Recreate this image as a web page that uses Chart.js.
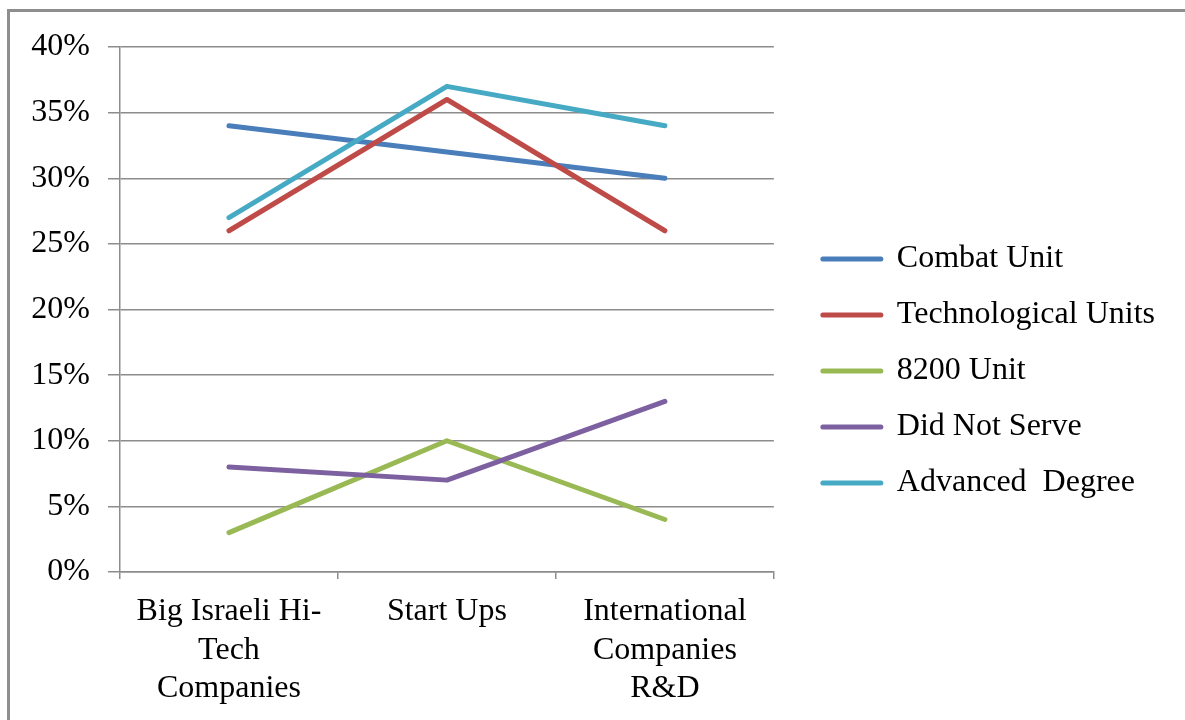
<!DOCTYPE html>
<html>
<head>
<meta charset="utf-8">
<script src="https://cdn.jsdelivr.net/npm/chart.js@4/dist/chart.umd.min.js"></script>
<style>
  html, body { margin: 0; padding: 0; background: #fff; overflow: hidden; }
  #frame {
    position: absolute; left: 7px; top: 9px; width: 1200px; height: 740px;
    border-left: 3px solid #8e8e8e; border-top: 3px solid #8e8e8e;
  }
  #wrap { position: absolute; left: 0; top: 0; width: 1185px; height: 720px; }
</style>
</head>
<body>
<div id="frame"></div>
<div id="wrap"><canvas id="chartCanvas"></canvas></div>
<script>
const categories = [
  ['Big Israeli Hi-', 'Tech', 'Companies'],
  'Start Ups',
  ['International', 'Companies', 'R&D']
];
const seriesNames = ['Combat Unit', 'Technological Units', '8200 Unit', 'Did Not Serve', 'Advanced  Degree'];
const combatUnit = [34, 32, 30];
const techUnits = [26, 36, 26];
const unit8200 = [3, 10, 4];
const didNotServe = [8, 7, 13];
const advancedDegree = [27, 37, 34];
const seriesColors = ['#4a7ebb', '#be4b48', '#98b954', '#7d60a0', '#46aac5'];

const serif = "'Liberation Serif', 'Times New Roman', serif";
const gridColor = '#8c8c8c';

const values = [combatUnit, techUnits, unit8200, didNotServe, advancedDegree];
const datasets = values.map((v, i) => ({
  label: seriesNames[i],
  data: v,
  borderColor: seriesColors[i],
  backgroundColor: seriesColors[i],
  borderWidth: 5,
  borderCapStyle: 'round',
  borderJoinStyle: 'round',
  pointRadius: 0,
  tension: 0,
  order: -i // later series on top, like the original
}));

// push the legend a little away from the plot, and up a bit
const legendShift = {
  id: 'legendShift',
  afterLayout(chart) {
    chart.legend.left += 25;
    chart.legend.right += 25;
    chart.legend.top -= 9;
    chart.legend.bottom -= 9;
  }
};

Chart.defaults.font.family = serif;
Chart.defaults.color = '#000';

new Chart(document.getElementById('chartCanvas').getContext('2d'), {
  type: 'line',
  data: { labels: categories, datasets: datasets },
  plugins: [legendShift],
  options: {
    responsive: true,
    maintainAspectRatio: false,
    animation: false,
    layout: { padding: { left: 0, right: 45, top: 47, bottom: 7 } },
    plugins: {
      tooltip: { enabled: false },
      legend: {
        position: 'right',
        align: 'center',
        maxWidth: 600,
        labels: {
          font: { size: 32, family: serif },
          color: '#000',
          padding: 24,
          boxWidth: 58,
          boxHeight: 0,
          sort: (a, b) => a.datasetIndex - b.datasetIndex,
          generateLabels(chart) {
            return chart.data.datasets.map((ds, i) => ({
              text: ds.label,
              fillStyle: ds.borderColor,
              strokeStyle: ds.borderColor,
              lineWidth: 5,
              lineCap: 'round',
              lineJoin: 'round',
              datasetIndex: i,
              hidden: false
            }));
          }
        }
      }
    },
    scales: {
      x: {
        offset: true,
        grid: {
          offset: true,
          drawOnChartArea: false,
          color: gridColor,
          lineWidth: 1.5,
          tickLength: 7
        },
        border: { color: gridColor, width: 1.5 },
        ticks: {
          font: { size: 32, family: serif, lineHeight: 1.19 },
          color: '#000',
          padding: 14,
          maxRotation: 0,
          autoSkip: false
        },
        afterFit(scale) { scale.height = 141; }
      },
      y: {
        min: 0,
        max: 40,
        grid: { color: gridColor, lineWidth: 1.5, tickLength: 12 },
        border: { color: gridColor, width: 1.5 },
        ticks: {
          stepSize: 5,
          padding: 18,
          font: { size: 32, family: serif },
          color: '#000',
          callback: v => v + '%'
        },
        afterFit(scale) { scale.width = 120; }
      }
    }
  }
});
</script>
</body>
</html>
